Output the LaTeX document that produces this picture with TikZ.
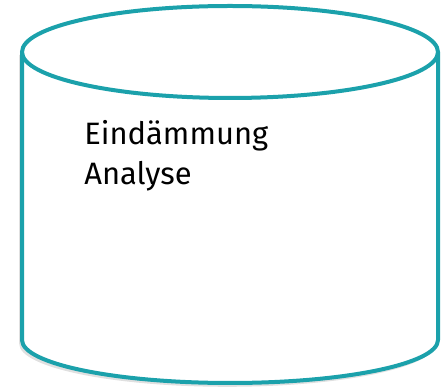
\documentclass[tikz,border=0pt]{standalone}
\usepackage{fontspec}
\setmainfont{Fira Sans}
\usetikzlibrary{positioning}
\definecolor{tealline}{HTML}{1BA1AB}
\tikzset{
  drum/.style  = {draw=tealline, line width=0.1cm, fill=white},
  drumshadow/.style = {fill=black!40, opacity=0.3},
  label/.style = {anchor=base west, align=left, inner sep=0pt, font=\fontsize{22}{28.5}\selectfont, text=black},
}

\begin{document}
\begin{tikzpicture}
    \useasboundingbox (0,0) rectangle (11.05,9.675);
    % shadow
    \fill [drumshadow] (0.48,8.3) -- (0.48,1.08) arc (180:360:5.2 and 1.075) -- (10.88,8.3) -- cycle;
    % body
    \draw [drum] (0.55,8.375) -- (0.55,1.175) arc (180:360:5.2 and 1.075) -- (10.95,8.375);
    \draw [drum] (5.75,8.375) ellipse (5.2 and 1.15);
    \node (txt) [label] at (2.1,5.05) {Eindämmung\\Analyse};
\end{tikzpicture}
\end{document}
